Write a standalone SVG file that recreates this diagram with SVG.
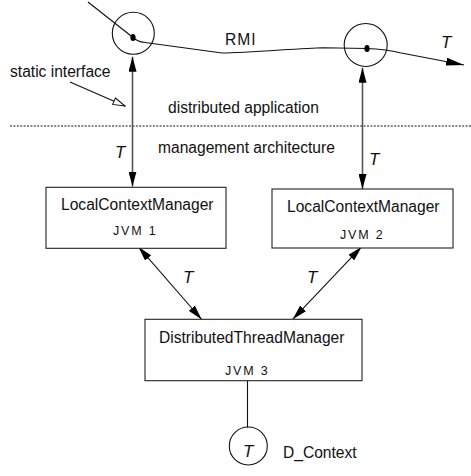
<svg xmlns="http://www.w3.org/2000/svg" width="471" height="476" viewBox="0 0 471 476">
  <style>
    text { font-family: "Liberation Sans", Helvetica, Arial, sans-serif; fill: #111; }
    .lbl { font-size: 15.6px; }
    .jvm { font-size: 12.5px; letter-spacing: 1.8px; }
    .t { font-size: 17px; font-style: italic; }
    .box { fill: #fff; stroke: #222; stroke-width: 1.1; }
    .ring { fill: none; stroke: #111; stroke-width: 1.1; }
    .thin { fill: none; stroke: #111; stroke-width: 1.1; }
    .link { fill: none; stroke: #555; stroke-width: 1.6; }
  </style>
  <defs>
    <marker id="head" markerUnits="userSpaceOnUse" markerWidth="15" markerHeight="8" refX="15" refY="4" orient="auto-start-reverse">
      <path d="M0,0 L15,4 L0,8 z" fill="#000"/>
    </marker>
    <marker id="headLong" markerUnits="userSpaceOnUse" markerWidth="18" markerHeight="8" refX="18" refY="4" orient="auto">
      <path d="M0,0 L18,4 L0,8 z" fill="#000"/>
    </marker>
    <marker id="open" markerUnits="userSpaceOnUse" markerWidth="14" markerHeight="9" refX="13" refY="4.5" orient="auto">
      <path d="M1,1 L13,4.5 L1,8 z" fill="#fff" stroke="#111" stroke-width="1"/>
    </marker>
  </defs>

  <!-- separator between application and management layers -->
  <line x1="10" y1="126" x2="471" y2="126" stroke="#111" stroke-width="1" stroke-dasharray="2 1.4"/>

  <!-- layer captions -->
  <text class="lbl" x="168" y="113">distributed application</text>
  <text class="lbl" x="158" y="153">management architecture</text>
  <text class="lbl" x="10" y="77">static interface</text>
  <text class="lbl" x="225" y="45" letter-spacing="1">RMI</text>

  <g id="connectors">
    <!-- RMI call path through both interception points -->
    <path class="thin" d="M88,2 L133,37.5 Q137,41.5 145,42.5 L222,53 C250,53 300,48 323,47.7 L366,48.5 C380,49 390,50 400,52.7 L464,65" marker-end="url(#headLong)"/>
    <!-- static interface pointer -->
    <line class="thin" x1="70" y1="82" x2="125" y2="106" marker-end="url(#open)"/>
    <!-- interception points to local managers -->
    <line class="link" x1="132.5" y1="56.7" x2="132.5" y2="186.5" marker-start="url(#head)" marker-end="url(#head)"/>
    <line class="link" x1="362.5" y1="67.7" x2="362.5" y2="189" marker-start="url(#head)" marker-end="url(#head)"/>
    <!-- local managers to distributed manager -->
    <line class="thin" x1="138.3" y1="246.7" x2="201.7" y2="319.5" marker-start="url(#head)" marker-end="url(#head)"/>
    <line class="thin" x1="361.7" y1="246.7" x2="292.7" y2="319.3" marker-start="url(#head)" marker-end="url(#head)"/>
    <!-- distributed manager to D_Context -->
    <line class="thin" x1="247.5" y1="380.7" x2="247.5" y2="427.5"/>
  </g>

  <!-- T annotations -->
  <text class="t" x="115" y="158">T</text>
  <text class="t" x="369" y="165">T</text>
  <text class="t" x="183" y="283">T</text>
  <text class="t" x="307" y="283">T</text>
  <text class="t" x="441" y="48">T</text>

  <g id="stub1">
    <circle class="ring" cx="133.3" cy="33.3" r="21"/>
    <ellipse cx="133" cy="37.5" rx="2.6" ry="3.6" fill="#000"/>
  </g>

  <g id="stub2">
    <circle class="ring" cx="365.7" cy="45" r="21.5"/>
    <ellipse cx="367" cy="48.5" rx="2.6" ry="3.6" fill="#000"/>
  </g>

  <g id="lcm1">
    <rect class="box" x="46" y="187.3" width="180" height="61"/>
    <text class="lbl" x="61" y="210">LocalContextManager</text>
    <text class="jvm" x="113" y="235">JVM 1</text>
  </g>

  <g id="lcm2">
    <rect class="box" x="272" y="189" width="181" height="59"/>
    <text class="lbl" x="287" y="212">LocalContextManager</text>
    <text class="jvm" x="340" y="239">JVM 2</text>
  </g>

  <g id="dtm">
    <rect class="box" x="145" y="319.3" width="217" height="61.4"/>
    <text class="lbl" x="159" y="343">DistributedThreadManager</text>
    <text class="jvm" x="225" y="375">JVM 3</text>
  </g>

  <g id="dcontext">
    <circle class="ring" cx="248.3" cy="446" r="19"/>
    <text class="t" x="243" y="457">T</text>
    <text class="lbl" x="283" y="458">D_Context</text>
  </g>
</svg>
